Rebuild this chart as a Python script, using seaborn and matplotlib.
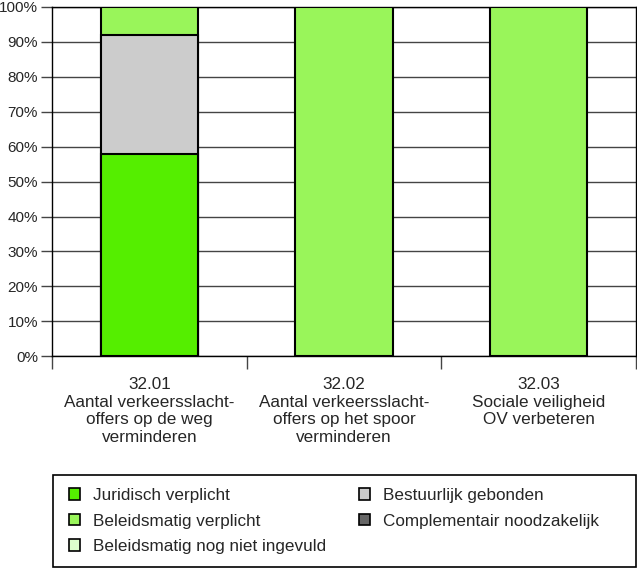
import numpy as np
import pandas as pd
import matplotlib
matplotlib.use("Agg")
import matplotlib.pyplot as plt
import seaborn as sns
from matplotlib.patches import Patch, Rectangle
from matplotlib.ticker import FixedLocator, PercentFormatter

# categories (x axis)
categories = [
    "32.01\nAantal verkeersslacht-\noffers op de weg\nverminderen",
    "32.02\nAantal verkeersslacht-\noffers op het spoor\nverminderen",
    "32.03\nSociale veiligheid\nOV verbeteren",
]

# shares per series, in stacking order (bottom -> top), percent
juridisch = [58, 0, 0]
bestuurlijk = [34, 0, 0]
beleid_verplicht = [8, 100, 100]
complementair = [0, 0, 0]
nog_niet = [0, 0, 0]

series = ["Juridisch verplicht", "Bestuurlijk gebonden", "Beleidsmatig verplicht",
          "Complementair noodzakelijk", "Beleidsmatig nog niet ingevuld"]
values = [juridisch, bestuurlijk, beleid_verplicht, complementair, nog_niet]
colors = {
    "Juridisch verplicht": "#55ee00",
    "Bestuurlijk gebonden": "#cccccc",
    "Beleidsmatig verplicht": "#99f55a",
    "Complementair noodzakelijk": "#666666",
    "Beleidsmatig nog niet ingevuld": "#ddffcc",
}

sns.set_style("white")
plt.rcParams["font.family"] = ["Liberation Sans", "DejaVu Sans"]

df = pd.DataFrame(dict(zip(series, values)), index=categories)
cum = df.cumsum(axis=1)

fig = plt.figure(figsize=(6.37, 5.69), dpi=100)
ax = fig.add_axes([0.0816, 0.374, 0.9165, 0.6137])

# draw tallest cumulative first so the lower segments sit on top
for name in reversed(series):
    if df[name].sum() == 0:
        continue
    d = pd.DataFrame({"cat": categories, "val": cum[name].values})
    d = d[df[name].values > 0]
    sns.barplot(data=d, x="cat", y="val", order=categories, color=colors[name],
                width=0.5, edgecolor="black", linewidth=1.5, saturation=1,
                ax=ax, zorder=3)

ax.set_ylim(0, 100)
ax.set_xlim(-0.5, 2.5)
ax.set_xlabel("")
ax.set_ylabel("")
ax.yaxis.set_major_locator(FixedLocator(np.arange(0, 101, 10)))
ax.yaxis.set_major_formatter(PercentFormatter(decimals=0))
ax.grid(axis="y", color="#444444", linewidth=1, zorder=0)
ax.grid(axis="x", visible=False)
ax.set_axisbelow(True)

ax.tick_params(axis="y", which="major", direction="out", length=8, width=1,
               color="#444444", labelsize=11, pad=2, left=True)
ax.tick_params(axis="x", which="major", length=0, labelsize=12.3, pad=15)
ax.xaxis.set_minor_locator(FixedLocator([-0.5, 0.5, 1.5, 2.5]))
ax.tick_params(axis="x", which="minor", direction="out", length=9, width=1,
               color="#444444", bottom=True)
for lbl in ax.get_xticklabels():
    lbl.set_ha("center")
    lbl.set_linespacing(1.22)

for s in ax.spines.values():
    s.set_visible(True)
    s.set_color("black")
    s.set_linewidth(1)

# legend frame
fig.patches.append(Rectangle((0.0832, 0.0035), 0.9152, 0.1617,
                             transform=fig.transFigure, facecolor="white",
                             edgecolor="black", linewidth=1.2))

handles = [Patch(facecolor=colors[n], edgecolor="black", linewidth=1.2, label=n)
           for n in ["Juridisch verplicht", "Beleidsmatig verplicht",
                     "Beleidsmatig nog niet ingevuld", "Bestuurlijk gebonden",
                     "Complementair noodzakelijk"]]
leg = fig.legend(handles=handles, loc="upper left", ncol=2,
                 bbox_to_anchor=(0.108, 0.1425),
                 frameon=False, fontsize=12.3, handlelength=0.65, handleheight=0.65,
                 handletextpad=0.75, labelspacing=0.62, columnspacing=1.95,
                 borderpad=0, borderaxespad=0)

plt.savefig("out.png", dpi=100)
